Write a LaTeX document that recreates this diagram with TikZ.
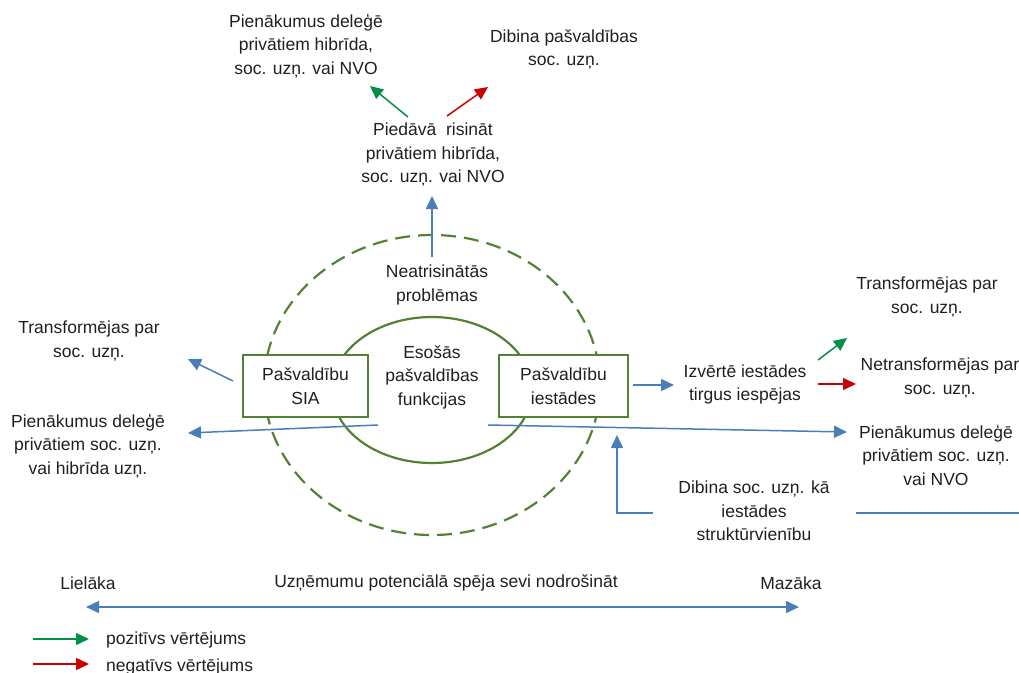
\documentclass[tikz,border=0pt]{standalone}
\usepackage{fontspec}
\setmainfont{Liberation Sans}
\usetikzlibrary{arrows.meta}
\definecolor{boxgreen}{RGB}{84,130,53}
\definecolor{linkblue}{RGB}{74,126,187}
\definecolor{posgreen}{RGB}{0,145,70}
\definecolor{negred}{RGB}{200,0,0}
\definecolor{ink}{RGB}{32,32,32}
\begin{document}
\begin{tikzpicture}[x=1pt,y=-1pt,
  txt/.style={text=ink,align=center,inner sep=0pt,font=\fontsize{17.5}{23.5}\selectfont},
  unitbox/.style={txt,draw=boxgreen,line width=2.3pt,fill=white,minimum height=62pt},
  bluearrow/.style={draw=linkblue,line width=1.5pt,-{Triangle[length=13pt,width=12pt]}},
  posarrow/.style={draw=posgreen,line width=1.5pt,-{Triangle[length=13pt,width=12pt]}},
  negarrow/.style={draw=negred,line width=1.5pt,-{Triangle[length=13pt,width=12pt]}}]
\useasboundingbox (0,0) rectangle (1019,672);

% outer (dashed) and inner municipal circles
\draw[boxgreen,line width=2.2pt,dash pattern=on 15pt off 8pt] (432,385) ellipse [x radius=168, y radius=150];
\draw[boxgreen,line width=2.2pt] (432,390) ellipse [x radius=100, y radius=73];

% texts
\node[txt] (func) at (432,377) {Esošās\\pašvaldības\\funkcijas};
\node[txt] (neat) at (437,285) {Neatrisinātās\\problēmas};
\node[txt] (pied) at (433,155) {Piedāvā\ \ risināt\\privātiem hibrīda,\\soc. uzņ. vai NVO};
\node[txt] (topl) at (306,46) {Pienākumus deleģē\\privātiem hibrīda,\\soc. uzņ. vai NVO};
\node[txt] (topr) at (564,49.5) {Dibina pašvaldības\\soc. uzņ.};
\node[txt] (leftt) at (89,341) {Transformējas par\\soc. uzņ.};
\node[txt] (leftp) at (88,446) {Pienākumus deleģē\\privātiem soc. uzņ.\\vai hibrīda uzņ.};
\node[txt] (izv) at (745,384.5) {Izvērtē iestādes\\tirgus iespējas};
\node[txt] (rt) at (927,297) {Transformējas par\\soc. uzņ.};
\node[txt] (rn) at (940,378) {Netransformējas par\\soc. uzņ.};
\node[txt] (rp) at (936,455) {Pienākumus deleģē\\privātiem soc. uzņ.\\vai NVO};
\node[txt] (dib) at (754,511) {Dibina soc. uzņ. kā\\iestādes\\struktūrvienību};
\node[txt] (lie) at (88,583) {Lielāka};
\node[txt] (maz) at (791,583) {Mazāka};
\node[txt] (uzn) at (446,583) {Uzņēmumu potenciālā spēja sevi nodrošināt};
\node[txt,anchor=west] (pos) at (106,640) {pozitīvs vērtējums};
\node[txt,anchor=west] (neg) at (106,667) {negatīvs vērtējums};

% connector end points
\coordinate (upS) at (432,257);   \coordinate (upE) at (432,196);
\coordinate (tgS) at (408,117);   \coordinate (tgE) at (370,86);
\coordinate (trS) at (447,116);   \coordinate (trE) at (488,87);
\coordinate (siaS) at (233,381);  \coordinate (siaE) at (188,359);
\coordinate (llS) at (378,425);   \coordinate (llE) at (188,433);
\coordinate (lrS) at (488,425);   \coordinate (lrE) at (847,432);
\coordinate (iesS) at (633,385);  \coordinate (iesE) at (674,385);
\coordinate (rgS) at (818,360);   \coordinate (rgE) at (847,338);
\coordinate (rrS) at (818,384);   \coordinate (rrE) at (856,384);
\coordinate (dbS) at (653,513);   \coordinate (dbC) at (617,513);  \coordinate (dbE) at (617,435);
\coordinate (dlS) at (856,513);   \coordinate (dlE) at (1019,513);
\coordinate (axL) at (86,607);    \coordinate (axR) at (799,607);
\coordinate (lgS) at (33,639);    \coordinate (lgE) at (89,639);
\coordinate (lrrS) at (33,664);   \coordinate (lrrE) at (89,664);

% blue connectors (drawn below the unit boxes)
\draw[bluearrow] (llS) -- (llE);
\draw[bluearrow] (lrS) -- (lrE);
\draw[bluearrow] (upS) -- (upE);
\draw[bluearrow] (siaS) -- (siaE);
\draw[bluearrow] (iesS) -- (iesE);
\draw[bluearrow] (dbS) -- (dbC) -- (dbE);
\draw[linkblue,line width=1.5pt] (dlS) -- (dlE);
\draw[linkblue,line width=1.5pt,{Triangle[length=13pt,width=12pt]}-{Triangle[length=13pt,width=12pt]}] (axL) -- (axR);

% evaluation arrows
\draw[posarrow] (tgS) -- (tgE);
\draw[negarrow] (trS) -- (trE);
\draw[posarrow] (rgS) -- (rgE);
\draw[negarrow] (rrS) -- (rrE);
\draw[posarrow] (lgS) -- (lgE);
\draw[negarrow] (lrrS) -- (lrrE);

% unit boxes
\node[unitbox,minimum width=125pt] (sia) at (305.5,386) {Pašvaldību\\SIA};
\node[unitbox,minimum width=129pt] (ies) at (563.5,386) {Pašvaldību\\iestādes};
\end{tikzpicture}
\end{document}
